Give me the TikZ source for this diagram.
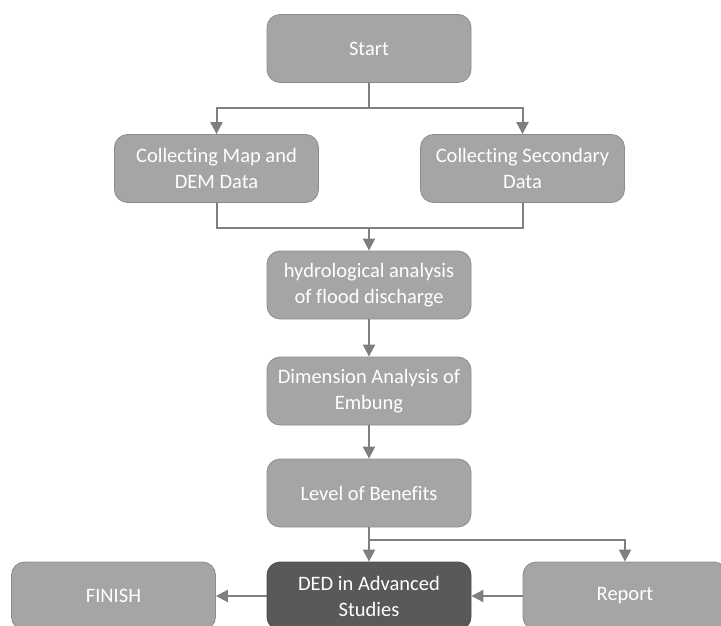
\documentclass[tikz,border=0pt]{standalone}
\usepackage{fontspec}
\setmainfont{Carlito}[Ligatures={NoCommon}]
\usetikzlibrary{arrows.meta}
\definecolor{boxfill}{HTML}{A5A5A5}
\definecolor{boxdraw}{HTML}{8C8C8C}
\definecolor{darkfill}{HTML}{595959}
\definecolor{linecol}{HTML}{7F7F7F}
\begin{document}
\begin{tikzpicture}[x=1pt,y=-1pt,
  box/.style={draw=boxdraw, fill=boxfill, rounded corners=13pt, minimum width=204pt, minimum height=68pt, text=white, align=center, font=\fontsize{20.5}{26}\selectfont, inner sep=0pt, line width=0.8pt},
  darkbox/.style={box, fill=darkfill, draw=darkfill!85!black},
  conn/.style={draw=linecol, line width=2pt},
  arr/.style={conn, -{Triangle[length=12pt,width=12pt]}}]
\useasboundingbox (0,0) rectangle (721,626);
\clip (0,0) rectangle (721,626);
\node[box] (start) at (369,48.5) {Start};
\node[box] (left) at (216.5,168.5) {Collecting Map and\\DEM Data};
\node[box] (right) at (522.5,168.5) {Collecting Secondary\\Data};
\node[box] (hydro) at (369,285) {hydrological analysis\\of flood discharge};
\node[box] (dim) at (369,391) {Dimension Analysis of\\Embung};
\node[box] (level) at (369,493) {Level of Benefits};
\node[darkbox] (ded) at (369,596) {DED in Advanced\\Studies};
\node[box] (finish) at (113.5,596) {FINISH};
\node[box] (report) at (625,596) {Report};
\coordinate (j1) at (369,108);
\coordinate (j2) at (369,228);
\coordinate (j3) at (369,540);
\draw[conn] (start.south) -- (j1);
\draw[arr] (j1) -| (left.north);
\draw[arr] (j1) -| (right.north);
\draw[conn] (left.south) |- (j2);
\draw[conn] (right.south) |- (j2);
\draw[arr] (j2) -- (hydro.north);
\draw[arr] (hydro.south) -- (dim.north);
\draw[arr] (dim.south) -- (level.north);
\draw[arr] (level.south) -- (ded.north);
\draw[arr] (j3) -| (report.north);
\draw[arr] (report.west) -- (ded.east);
\draw[arr] (ded.west) -- (finish.east);
\end{tikzpicture}
\end{document}
